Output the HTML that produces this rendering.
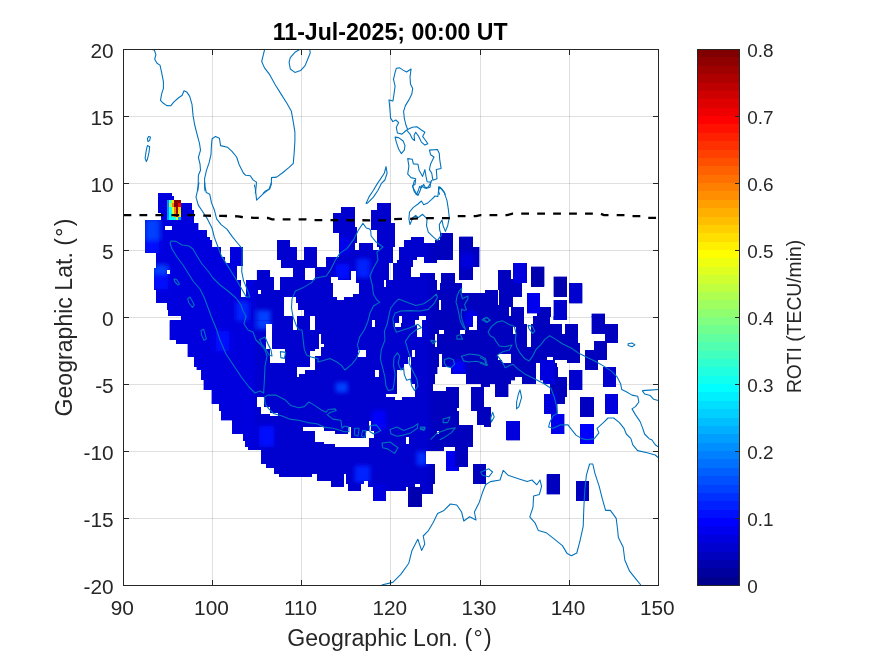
<!DOCTYPE html>
<html><head><meta charset="utf-8"><title>ROTI map</title>
<style>html,body{margin:0;padding:0;background:#fff;overflow:hidden}svg{display:block}</style></head>
<body>
<svg width="875" height="656" viewBox="0 0 875 656" style="display:block">
<rect width="875" height="656" fill="#fff"/>
<g stroke="#262626" stroke-opacity="0.15" stroke-width="1" shape-rendering="crispEdges">
<line x1="212.5" y1="49.5" x2="212.5" y2="585.5"/>
<line x1="301.5" y1="49.5" x2="301.5" y2="585.5"/>
<line x1="390.5" y1="49.5" x2="390.5" y2="585.5"/>
<line x1="480.5" y1="49.5" x2="480.5" y2="585.5"/>
<line x1="569.5" y1="49.5" x2="569.5" y2="585.5"/>
<line x1="123.5" y1="518.5" x2="658.5" y2="518.5"/>
<line x1="123.5" y1="451.5" x2="658.5" y2="451.5"/>
<line x1="123.5" y1="384.5" x2="658.5" y2="384.5"/>
<line x1="123.5" y1="317.5" x2="658.5" y2="317.5"/>
<line x1="123.5" y1="250.5" x2="658.5" y2="250.5"/>
<line x1="123.5" y1="183.5" x2="658.5" y2="183.5"/>
<line x1="123.5" y1="116.5" x2="658.5" y2="116.5"/>
</g>
<clipPath id="cp"><rect x="123.5" y="49.5" width="535.0" height="536.0"/></clipPath>
<g clip-path="url(#cp)">
<g shape-rendering="crispEdges">
<rect x="158.4" y="193.0" width="13.6" height="3.0" fill="#0000cf"/>
<rect x="158.4" y="196.0" width="15.4" height="4.0" fill="#0000cf"/>
<rect x="158.4" y="200.0" width="22.6" height="3.0" fill="#0000cf"/>
<rect x="158.4" y="203.0" width="33.6" height="7.0" fill="#0000cf"/>
<rect x="158.4" y="210.0" width="35.6" height="3.0" fill="#0000cf"/>
<rect x="161.0" y="213.0" width="33.0" height="7.0" fill="#0000cf"/>
<rect x="145.0" y="220.0" width="49.0" height="3.0" fill="#0000cf"/>
<rect x="145.0" y="223.0" width="53.4" height="3.0" fill="#0000cf"/>
<rect x="145.0" y="226.0" width="20.0" height="4.0" fill="#0000cf"/>
<rect x="172.0" y="226.0" width="26.4" height="4.0" fill="#0000cf"/>
<rect x="145.0" y="230.0" width="62.0" height="7.0" fill="#0000cf"/>
<rect x="145.0" y="237.0" width="64.6" height="3.0" fill="#0000cf"/>
<rect x="145.0" y="240.0" width="66.6" height="7.0" fill="#0000cf"/>
<rect x="277.0" y="240.0" width="13.0" height="7.0" fill="#0000cf"/>
<rect x="145.0" y="247.0" width="76.0" height="6.0" fill="#0000cf"/>
<rect x="230.0" y="247.0" width="13.0" height="6.0" fill="#0000cf"/>
<rect x="277.0" y="247.0" width="20.0" height="6.0" fill="#0000cf"/>
<rect x="303.6" y="247.0" width="11.4" height="6.0" fill="#0000cf"/>
<rect x="156.4" y="253.0" width="64.6" height="4.0" fill="#0000cf"/>
<rect x="230.0" y="253.0" width="13.0" height="4.0" fill="#0000cf"/>
<rect x="277.0" y="253.0" width="20.0" height="4.0" fill="#0000cf"/>
<rect x="303.6" y="253.0" width="11.4" height="4.0" fill="#0000cf"/>
<rect x="156.4" y="257.0" width="68.6" height="3.0" fill="#0000cf"/>
<rect x="230.0" y="257.0" width="13.0" height="3.0" fill="#0000cf"/>
<rect x="277.0" y="257.0" width="20.0" height="3.0" fill="#0000cf"/>
<rect x="303.6" y="257.0" width="11.4" height="3.0" fill="#0000cf"/>
<rect x="156.4" y="260.0" width="68.6" height="3.0" fill="#0000cf"/>
<rect x="230.0" y="260.0" width="13.0" height="3.0" fill="#0000cf"/>
<rect x="281.0" y="260.0" width="34.0" height="3.0" fill="#0000cf"/>
<rect x="156.4" y="263.0" width="86.6" height="3.0" fill="#0000cf"/>
<rect x="281.0" y="263.0" width="34.0" height="3.0" fill="#0000cf"/>
<rect x="156.4" y="266.0" width="80.6" height="2.0" fill="#0000cf"/>
<rect x="281.0" y="266.0" width="34.0" height="2.0" fill="#0000cf"/>
<rect x="154.0" y="268.0" width="83.0" height="2.0" fill="#0000cf"/>
<rect x="293.0" y="268.0" width="12.0" height="2.0" fill="#0000cf"/>
<rect x="154.0" y="270.0" width="13.0" height="4.0" fill="#0000cf"/>
<rect x="170.0" y="270.0" width="67.0" height="4.0" fill="#0000cf"/>
<rect x="256.6" y="270.0" width="13.4" height="4.0" fill="#0000cf"/>
<rect x="293.0" y="270.0" width="12.0" height="4.0" fill="#0000cf"/>
<rect x="154.0" y="274.0" width="83.0" height="3.0" fill="#0000cf"/>
<rect x="256.6" y="274.0" width="13.4" height="3.0" fill="#0000cf"/>
<rect x="293.0" y="274.0" width="12.0" height="3.0" fill="#0000cf"/>
<rect x="154.0" y="277.0" width="83.0" height="3.0" fill="#0000cf"/>
<rect x="256.6" y="277.0" width="17.4" height="3.0" fill="#0000cf"/>
<rect x="280.0" y="277.0" width="25.0" height="3.0" fill="#0000cf"/>
<rect x="154.0" y="280.0" width="87.0" height="10.0" fill="#0000cf"/>
<rect x="246.0" y="280.0" width="28.0" height="10.0" fill="#0000cf"/>
<rect x="280.0" y="280.0" width="35.0" height="10.0" fill="#0000cf"/>
<rect x="156.4" y="290.0" width="84.6" height="4.0" fill="#0000cf"/>
<rect x="246.0" y="290.0" width="12.4" height="4.0" fill="#0000cf"/>
<rect x="261.0" y="290.0" width="54.0" height="4.0" fill="#0000cf"/>
<rect x="156.4" y="294.0" width="84.6" height="3.0" fill="#0000cf"/>
<rect x="246.0" y="294.0" width="69.0" height="3.0" fill="#0000cf"/>
<rect x="156.4" y="297.0" width="127.6" height="6.0" fill="#0000cf"/>
<rect x="296.0" y="297.0" width="19.0" height="6.0" fill="#0000cf"/>
<rect x="167.0" y="303.0" width="117.0" height="7.0" fill="#0000cf"/>
<rect x="298.0" y="303.0" width="17.0" height="7.0" fill="#0000cf"/>
<rect x="168.0" y="310.0" width="116.0" height="6.0" fill="#0000cf"/>
<rect x="304.0" y="310.0" width="11.0" height="6.0" fill="#0000cf"/>
<rect x="377.4" y="203.0" width="13.2" height="3.6" fill="#0000cf"/>
<rect x="341.4" y="206.6" width="13.2" height="3.4" fill="#0000cf"/>
<rect x="377.4" y="206.6" width="13.2" height="3.4" fill="#0000cf"/>
<rect x="341.4" y="210.0" width="13.2" height="3.0" fill="#0000cf"/>
<rect x="370.6" y="210.0" width="20.0" height="3.0" fill="#0000cf"/>
<rect x="332.6" y="213.0" width="22.0" height="10.0" fill="#0000cf"/>
<rect x="370.6" y="213.0" width="20.0" height="10.0" fill="#0000cf"/>
<rect x="332.6" y="223.0" width="22.0" height="4.0" fill="#0000cf"/>
<rect x="370.6" y="223.0" width="24.4" height="4.0" fill="#0000cf"/>
<rect x="332.6" y="227.0" width="24.4" height="3.0" fill="#0000cf"/>
<rect x="370.6" y="227.0" width="24.4" height="3.0" fill="#0000cf"/>
<rect x="332.6" y="230.0" width="24.4" height="3.0" fill="#0000cf"/>
<rect x="377.4" y="230.0" width="17.6" height="3.0" fill="#0000cf"/>
<rect x="339.4" y="233.0" width="17.6" height="3.6" fill="#0000cf"/>
<rect x="377.4" y="233.0" width="17.6" height="3.6" fill="#0000cf"/>
<rect x="440.0" y="233.0" width="13.0" height="3.6" fill="#0000cf"/>
<rect x="339.4" y="236.6" width="17.6" height="3.4" fill="#0000cf"/>
<rect x="377.4" y="236.6" width="17.6" height="3.4" fill="#0000cf"/>
<rect x="411.0" y="236.6" width="13.0" height="3.4" fill="#0000cf"/>
<rect x="440.0" y="236.6" width="13.0" height="3.4" fill="#0000cf"/>
<rect x="459.4" y="236.6" width="13.6" height="3.4" fill="#0000cf"/>
<rect x="339.4" y="240.0" width="17.6" height="3.4" fill="#0000cf"/>
<rect x="377.4" y="240.0" width="17.6" height="3.4" fill="#0000cf"/>
<rect x="404.0" y="240.0" width="20.0" height="3.4" fill="#0000cf"/>
<rect x="435.0" y="240.0" width="18.0" height="3.4" fill="#0000cf"/>
<rect x="459.4" y="240.0" width="13.6" height="3.4" fill="#0000cf"/>
<rect x="339.4" y="243.4" width="33.6" height="3.6" fill="#0000cf"/>
<rect x="377.4" y="243.4" width="17.6" height="3.6" fill="#0000cf"/>
<rect x="404.0" y="243.4" width="49.0" height="3.6" fill="#0000cf"/>
<rect x="459.4" y="243.4" width="13.6" height="3.6" fill="#0000cf"/>
<rect x="315.0" y="247.0" width="2.0" height="3.0" fill="#0000cf"/>
<rect x="339.4" y="247.0" width="33.6" height="3.0" fill="#0000cf"/>
<rect x="379.0" y="247.0" width="14.0" height="3.0" fill="#0000cf"/>
<rect x="399.0" y="247.0" width="54.0" height="3.0" fill="#0000cf"/>
<rect x="459.4" y="247.0" width="20.0" height="3.0" fill="#0000cf"/>
<rect x="315.0" y="250.0" width="2.0" height="7.0" fill="#0000cf"/>
<rect x="339.4" y="250.0" width="53.6" height="7.0" fill="#0000cf"/>
<rect x="399.0" y="250.0" width="54.0" height="7.0" fill="#0000cf"/>
<rect x="459.4" y="250.0" width="20.0" height="7.0" fill="#0000cf"/>
<rect x="315.0" y="257.0" width="2.0" height="3.0" fill="#0000cf"/>
<rect x="326.0" y="257.0" width="67.0" height="3.0" fill="#0000cf"/>
<rect x="399.0" y="257.0" width="18.0" height="3.0" fill="#0000cf"/>
<rect x="424.0" y="257.0" width="29.0" height="3.0" fill="#0000cf"/>
<rect x="459.4" y="257.0" width="20.0" height="3.0" fill="#0000cf"/>
<rect x="315.0" y="260.0" width="2.0" height="3.0" fill="#0000cf"/>
<rect x="326.0" y="260.0" width="67.0" height="3.0" fill="#0000cf"/>
<rect x="397.0" y="260.0" width="16.0" height="3.0" fill="#0000cf"/>
<rect x="424.0" y="260.0" width="13.0" height="3.0" fill="#0000cf"/>
<rect x="459.4" y="260.0" width="20.0" height="3.0" fill="#0000cf"/>
<rect x="315.0" y="263.0" width="2.0" height="4.0" fill="#0000cf"/>
<rect x="326.0" y="263.0" width="63.0" height="4.0" fill="#0000cf"/>
<rect x="393.0" y="263.0" width="20.0" height="4.0" fill="#0000cf"/>
<rect x="459.4" y="263.0" width="20.0" height="4.0" fill="#0000cf"/>
<rect x="315.0" y="267.0" width="74.0" height="4.0" fill="#0000cf"/>
<rect x="393.0" y="267.0" width="18.0" height="4.0" fill="#0000cf"/>
<rect x="459.4" y="267.0" width="13.6" height="4.0" fill="#0000cf"/>
<rect x="315.0" y="271.0" width="35.6" height="2.0" fill="#0000cf"/>
<rect x="356.0" y="271.0" width="33.0" height="2.0" fill="#0000cf"/>
<rect x="393.0" y="271.0" width="18.0" height="2.0" fill="#0000cf"/>
<rect x="459.4" y="271.0" width="13.6" height="2.0" fill="#0000cf"/>
<rect x="315.0" y="273.0" width="35.6" height="4.0" fill="#0000cf"/>
<rect x="356.0" y="273.0" width="33.0" height="4.0" fill="#0000cf"/>
<rect x="393.0" y="273.0" width="18.0" height="4.0" fill="#0000cf"/>
<rect x="420.0" y="273.0" width="15.0" height="4.0" fill="#0000cf"/>
<rect x="441.4" y="273.0" width="13.6" height="4.0" fill="#0000cf"/>
<rect x="459.4" y="273.0" width="13.6" height="4.0" fill="#0000cf"/>
<rect x="315.0" y="277.0" width="16.0" height="3.0" fill="#0000cf"/>
<rect x="338.0" y="277.0" width="12.6" height="3.0" fill="#0000cf"/>
<rect x="356.0" y="277.0" width="33.0" height="3.0" fill="#0000cf"/>
<rect x="393.0" y="277.0" width="42.0" height="3.0" fill="#0000cf"/>
<rect x="441.4" y="277.0" width="13.6" height="3.0" fill="#0000cf"/>
<rect x="459.4" y="277.0" width="13.6" height="3.0" fill="#0000cf"/>
<rect x="315.0" y="280.0" width="16.0" height="3.0" fill="#0000cf"/>
<rect x="356.0" y="280.0" width="28.0" height="3.0" fill="#0000cf"/>
<rect x="386.0" y="280.0" width="51.0" height="3.0" fill="#0000cf"/>
<rect x="441.4" y="280.0" width="13.6" height="3.0" fill="#0000cf"/>
<rect x="315.0" y="283.0" width="18.0" height="4.0" fill="#0000cf"/>
<rect x="359.0" y="283.0" width="25.0" height="4.0" fill="#0000cf"/>
<rect x="386.0" y="283.0" width="51.0" height="4.0" fill="#0000cf"/>
<rect x="440.0" y="283.0" width="22.0" height="4.0" fill="#0000cf"/>
<rect x="315.0" y="287.0" width="18.0" height="3.0" fill="#0000cf"/>
<rect x="359.0" y="287.0" width="78.0" height="3.0" fill="#0000cf"/>
<rect x="440.0" y="287.0" width="22.0" height="3.0" fill="#0000cf"/>
<rect x="315.0" y="290.0" width="18.0" height="3.2" fill="#0000cf"/>
<rect x="359.0" y="290.0" width="103.0" height="3.2" fill="#0000cf"/>
<rect x="485.0" y="290.0" width="5.0" height="3.2" fill="#0000cf"/>
<rect x="315.0" y="293.2" width="18.0" height="0.8" fill="#0000cf"/>
<rect x="359.0" y="293.2" width="131.0" height="0.8" fill="#0000cf"/>
<rect x="315.0" y="294.0" width="18.0" height="3.0" fill="#0000cf"/>
<rect x="353.0" y="294.0" width="137.0" height="3.0" fill="#0000cf"/>
<rect x="315.0" y="297.0" width="22.0" height="3.0" fill="#0000cf"/>
<rect x="344.0" y="297.0" width="146.0" height="3.0" fill="#0000cf"/>
<rect x="315.0" y="300.0" width="123.6" height="10.4" fill="#0000cf"/>
<rect x="441.4" y="300.0" width="48.6" height="10.4" fill="#0000cf"/>
<rect x="315.0" y="310.4" width="175.0" height="5.6" fill="#0000cf"/>
<rect x="513.4" y="263.4" width="13.2" height="19.6" fill="#0000df"/>
<rect x="498.0" y="270.0" width="13.0" height="20.0" fill="#0000bf"/>
<rect x="531.0" y="266.6" width="13.4" height="20.0" fill="#0000af"/>
<rect x="553.6" y="276.6" width="13.4" height="20.0" fill="#0000af"/>
<rect x="569.4" y="283.4" width="13.0" height="20.0" fill="#0000cf"/>
<rect x="527.0" y="293.4" width="13.0" height="20.0" fill="#0000ef"/>
<rect x="553.6" y="300.0" width="13.4" height="20.0" fill="#0000cf"/>
<rect x="510.0" y="279.0" width="12.0" height="18.0" fill="#0000cf"/>
<rect x="490.0" y="290.0" width="7.6" height="15.0" fill="#0000af"/>
<rect x="499.0" y="290.0" width="14.0" height="17.0" fill="#0000bf"/>
<rect x="511.0" y="307.0" width="13.0" height="10.0" fill="#0000cf"/>
<rect x="537.0" y="307.0" width="14.0" height="10.0" fill="#0000af"/>
<rect x="591.6" y="313.6" width="13.4" height="3.4" fill="#0000af"/>
<rect x="490.0" y="305.0" width="19.0" height="12.0" fill="#0000bf"/>
<rect x="181.0" y="316.0" width="134.0" height="4.4" fill="#0000cf"/>
<rect x="169.6" y="320.4" width="145.4" height="19.6" fill="#0000cf"/>
<rect x="176.0" y="340.0" width="139.0" height="4.0" fill="#0000cf"/>
<rect x="187.6" y="344.0" width="127.4" height="13.0" fill="#0000cf"/>
<rect x="194.0" y="357.0" width="121.0" height="10.0" fill="#0000cf"/>
<rect x="196.6" y="367.0" width="118.4" height="3.0" fill="#0000cf"/>
<rect x="201.0" y="370.0" width="114.0" height="10.0" fill="#0000cf"/>
<rect x="203.6" y="380.0" width="111.4" height="10.0" fill="#0000cf"/>
<rect x="211.6" y="390.0" width="103.4" height="14.0" fill="#0000cf"/>
<rect x="219.0" y="404.0" width="96.0" height="7.0" fill="#0000cf"/>
<rect x="221.0" y="411.0" width="94.0" height="9.4" fill="#0000cf"/>
<rect x="232.4" y="420.4" width="82.6" height="13.6" fill="#0000cf"/>
<rect x="243.0" y="434.0" width="72.0" height="7.0" fill="#0000cf"/>
<rect x="245.4" y="441.0" width="69.6" height="6.0" fill="#0000cf"/>
<rect x="315.0" y="316.0" width="118.0" height="131.0" fill="#0000cf"/>
<rect x="433.0" y="316.0" width="57.0" height="51.0" fill="#0000cf"/>
<rect x="433.0" y="367.0" width="4.4" height="7.0" fill="#0000cf"/>
<rect x="451.0" y="367.0" width="39.0" height="7.0" fill="#0000cf"/>
<rect x="433.0" y="374.0" width="2.0" height="10.0" fill="#0000cf"/>
<rect x="466.0" y="374.0" width="24.0" height="10.0" fill="#0000cf"/>
<rect x="481.0" y="384.0" width="9.0" height="3.0" fill="#0000cf"/>
<rect x="446.0" y="387.0" width="13.0" height="4.0" fill="#0000cf"/>
<rect x="471.0" y="387.0" width="13.0" height="4.0" fill="#0000cf"/>
<rect x="433.0" y="391.0" width="26.0" height="17.0" fill="#0000cf"/>
<rect x="471.0" y="391.0" width="13.0" height="17.0" fill="#0000cf"/>
<rect x="484.0" y="407.0" width="6.0" height="20.0" fill="#0000cf"/>
<rect x="433.0" y="408.0" width="24.0" height="3.0" fill="#0000cf"/>
<rect x="471.0" y="408.0" width="13.0" height="3.0" fill="#0000cf"/>
<rect x="433.0" y="411.0" width="26.0" height="14.0" fill="#0000cf"/>
<rect x="477.0" y="411.0" width="7.0" height="14.0" fill="#0000cf"/>
<rect x="433.0" y="425.0" width="40.0" height="22.0" fill="#0000cf"/>
<rect x="490.0" y="316.0" width="34.0" height="4.0" fill="#0000cf"/>
<rect x="533.0" y="316.0" width="17.0" height="4.0" fill="#0000cf"/>
<rect x="553.6" y="316.0" width="13.4" height="4.0" fill="#0000cf"/>
<rect x="591.6" y="316.0" width="13.4" height="4.0" fill="#0000cf"/>
<rect x="490.0" y="320.0" width="34.0" height="4.0" fill="#0000cf"/>
<rect x="533.0" y="320.0" width="17.0" height="4.0" fill="#0000cf"/>
<rect x="591.6" y="320.0" width="13.4" height="4.0" fill="#0000cf"/>
<rect x="490.0" y="324.0" width="37.0" height="3.0" fill="#0000cf"/>
<rect x="531.0" y="324.0" width="31.0" height="3.0" fill="#0000cf"/>
<rect x="565.0" y="324.0" width="13.0" height="3.0" fill="#0000cf"/>
<rect x="591.6" y="324.0" width="26.4" height="3.0" fill="#0000cf"/>
<rect x="490.0" y="327.0" width="23.0" height="7.0" fill="#0000cf"/>
<rect x="516.0" y="327.0" width="11.0" height="7.0" fill="#0000cf"/>
<rect x="531.0" y="327.0" width="31.0" height="7.0" fill="#0000cf"/>
<rect x="565.0" y="327.0" width="13.0" height="7.0" fill="#0000cf"/>
<rect x="591.6" y="327.0" width="26.4" height="7.0" fill="#0000cf"/>
<rect x="490.0" y="334.0" width="37.0" height="7.0" fill="#0000cf"/>
<rect x="531.0" y="334.0" width="47.0" height="7.0" fill="#0000cf"/>
<rect x="605.0" y="334.0" width="13.0" height="7.0" fill="#0000cf"/>
<rect x="490.0" y="341.0" width="37.0" height="2.0" fill="#0000cf"/>
<rect x="531.0" y="341.0" width="47.0" height="2.0" fill="#0000cf"/>
<rect x="594.0" y="341.0" width="24.0" height="2.0" fill="#0000cf"/>
<rect x="490.0" y="343.0" width="37.0" height="4.0" fill="#0000cf"/>
<rect x="531.0" y="343.0" width="49.0" height="4.0" fill="#0000cf"/>
<rect x="594.0" y="343.0" width="13.0" height="4.0" fill="#0000cf"/>
<rect x="490.0" y="347.0" width="90.0" height="3.4" fill="#0000cf"/>
<rect x="594.0" y="347.0" width="13.0" height="3.4" fill="#0000cf"/>
<rect x="490.0" y="350.4" width="90.0" height="3.6" fill="#0000cf"/>
<rect x="585.0" y="350.4" width="22.0" height="3.6" fill="#0000cf"/>
<rect x="490.0" y="354.0" width="8.0" height="3.0" fill="#0000cf"/>
<rect x="511.0" y="354.0" width="69.0" height="3.0" fill="#0000cf"/>
<rect x="585.0" y="354.0" width="22.0" height="3.0" fill="#0000cf"/>
<rect x="490.0" y="357.0" width="8.0" height="3.0" fill="#0000cf"/>
<rect x="511.0" y="357.0" width="36.0" height="3.0" fill="#0000cf"/>
<rect x="553.0" y="357.0" width="27.0" height="3.0" fill="#0000cf"/>
<rect x="585.0" y="357.0" width="22.0" height="3.0" fill="#0000cf"/>
<rect x="490.0" y="360.0" width="12.0" height="3.0" fill="#0000cf"/>
<rect x="511.0" y="360.0" width="44.0" height="3.0" fill="#0000cf"/>
<rect x="567.0" y="360.0" width="13.0" height="3.0" fill="#0000cf"/>
<rect x="585.0" y="360.0" width="13.0" height="3.0" fill="#0000cf"/>
<rect x="490.0" y="363.0" width="46.0" height="4.0" fill="#0000cf"/>
<rect x="540.0" y="363.0" width="17.0" height="4.0" fill="#0000cf"/>
<rect x="585.0" y="363.0" width="13.0" height="4.0" fill="#0000cf"/>
<rect x="490.0" y="367.0" width="46.0" height="3.0" fill="#0000cf"/>
<rect x="540.0" y="367.0" width="18.0" height="3.0" fill="#0000cf"/>
<rect x="585.0" y="367.0" width="13.0" height="3.0" fill="#0000cf"/>
<rect x="603.0" y="367.0" width="13.0" height="3.0" fill="#0000cf"/>
<rect x="490.0" y="370.0" width="46.0" height="7.0" fill="#0000cf"/>
<rect x="540.0" y="370.0" width="18.0" height="7.0" fill="#0000cf"/>
<rect x="569.4" y="370.0" width="13.0" height="7.0" fill="#0000cf"/>
<rect x="603.0" y="370.0" width="13.0" height="7.0" fill="#0000cf"/>
<rect x="490.0" y="377.0" width="25.0" height="3.4" fill="#0000cf"/>
<rect x="522.0" y="377.0" width="14.0" height="3.4" fill="#0000cf"/>
<rect x="540.0" y="377.0" width="27.0" height="3.4" fill="#0000cf"/>
<rect x="569.4" y="377.0" width="13.0" height="3.4" fill="#0000cf"/>
<rect x="603.0" y="377.0" width="13.0" height="3.4" fill="#0000cf"/>
<rect x="490.0" y="380.4" width="21.0" height="3.6" fill="#0000cf"/>
<rect x="522.0" y="380.4" width="14.0" height="3.6" fill="#0000cf"/>
<rect x="543.0" y="380.4" width="24.0" height="3.6" fill="#0000cf"/>
<rect x="569.4" y="380.4" width="13.0" height="3.6" fill="#0000cf"/>
<rect x="603.0" y="380.4" width="13.0" height="3.6" fill="#0000cf"/>
<rect x="495.0" y="384.0" width="13.4" height="3.0" fill="#0000cf"/>
<rect x="550.0" y="384.0" width="17.0" height="3.0" fill="#0000cf"/>
<rect x="569.4" y="384.0" width="13.0" height="3.0" fill="#0000cf"/>
<rect x="603.0" y="384.0" width="13.0" height="3.0" fill="#0000cf"/>
<rect x="495.0" y="387.0" width="13.4" height="3.0" fill="#0000cf"/>
<rect x="550.0" y="387.0" width="17.0" height="3.0" fill="#0000cf"/>
<rect x="569.4" y="387.0" width="13.0" height="3.0" fill="#0000cf"/>
<rect x="495.0" y="390.0" width="13.4" height="4.0" fill="#0000cf"/>
<rect x="550.0" y="390.0" width="17.0" height="4.0" fill="#0000cf"/>
<rect x="495.0" y="394.0" width="13.4" height="3.0" fill="#0000cf"/>
<rect x="544.4" y="394.0" width="22.6" height="3.0" fill="#0000cf"/>
<rect x="605.0" y="394.0" width="13.0" height="3.0" fill="#0000cf"/>
<rect x="544.4" y="397.0" width="20.6" height="7.0" fill="#0000cf"/>
<rect x="580.4" y="397.0" width="13.2" height="7.0" fill="#0000cf"/>
<rect x="605.0" y="397.0" width="13.0" height="7.0" fill="#0000cf"/>
<rect x="544.4" y="404.0" width="13.0" height="10.0" fill="#0000cf"/>
<rect x="580.4" y="404.0" width="13.2" height="10.0" fill="#0000cf"/>
<rect x="605.0" y="404.0" width="13.0" height="10.0" fill="#0000cf"/>
<rect x="490.0" y="407.0" width="1.0" height="20.0" fill="#0000cf"/>
<rect x="551.0" y="414.0" width="13.4" height="3.0" fill="#0000cf"/>
<rect x="580.4" y="414.0" width="13.2" height="3.0" fill="#0000cf"/>
<rect x="551.0" y="417.0" width="13.4" height="4.0" fill="#0000cf"/>
<rect x="506.4" y="421.0" width="13.6" height="3.0" fill="#0000cf"/>
<rect x="551.0" y="421.0" width="13.4" height="3.0" fill="#0000cf"/>
<rect x="506.4" y="424.0" width="13.6" height="10.0" fill="#0000cf"/>
<rect x="551.0" y="424.0" width="13.4" height="10.0" fill="#0000cf"/>
<rect x="580.4" y="424.0" width="13.2" height="10.0" fill="#0000cf"/>
<rect x="506.4" y="434.0" width="13.6" height="6.4" fill="#0000cf"/>
<rect x="580.4" y="434.0" width="13.2" height="6.4" fill="#0000cf"/>
<rect x="580.4" y="440.4" width="13.2" height="3.6" fill="#0000cf"/>
<rect x="248.0" y="447.0" width="67.0" height="3.0" fill="#0000cf"/>
<rect x="261.0" y="450.0" width="54.0" height="14.0" fill="#0000cf"/>
<rect x="265.6" y="464.0" width="49.4" height="4.0" fill="#0000cf"/>
<rect x="274.0" y="468.0" width="41.0" height="6.0" fill="#0000cf"/>
<rect x="279.0" y="474.0" width="33.0" height="3.4" fill="#0000cf"/>
<rect x="315.0" y="447.0" width="129.0" height="4.0" fill="#0000cf"/>
<rect x="455.0" y="447.0" width="13.0" height="4.0" fill="#0000cf"/>
<rect x="315.0" y="451.0" width="111.0" height="13.0" fill="#0000cf"/>
<rect x="446.0" y="451.0" width="22.0" height="13.0" fill="#0000cf"/>
<rect x="315.0" y="464.0" width="120.0" height="3.0" fill="#0000cf"/>
<rect x="446.0" y="464.0" width="22.0" height="3.0" fill="#0000cf"/>
<rect x="473.0" y="464.0" width="13.0" height="3.0" fill="#0000cf"/>
<rect x="315.0" y="467.0" width="120.0" height="4.0" fill="#0000cf"/>
<rect x="446.0" y="467.0" width="13.0" height="4.0" fill="#0000cf"/>
<rect x="473.0" y="467.0" width="13.0" height="4.0" fill="#0000cf"/>
<rect x="315.0" y="471.0" width="120.0" height="3.0" fill="#0000cf"/>
<rect x="473.0" y="471.0" width="13.0" height="3.0" fill="#0000cf"/>
<rect x="317.0" y="474.0" width="27.0" height="7.0" fill="#0000cf"/>
<rect x="346.0" y="474.0" width="89.0" height="7.0" fill="#0000cf"/>
<rect x="473.0" y="474.0" width="13.0" height="7.0" fill="#0000cf"/>
<rect x="330.6" y="481.0" width="13.4" height="3.0" fill="#0000cf"/>
<rect x="346.0" y="481.0" width="18.0" height="3.0" fill="#0000cf"/>
<rect x="368.0" y="481.0" width="67.0" height="3.0" fill="#0000cf"/>
<rect x="473.0" y="481.0" width="13.0" height="3.0" fill="#0000cf"/>
<rect x="330.6" y="484.0" width="13.4" height="3.0" fill="#0000cf"/>
<rect x="348.0" y="484.0" width="13.0" height="3.0" fill="#0000cf"/>
<rect x="368.0" y="484.0" width="47.0" height="3.0" fill="#0000cf"/>
<rect x="420.0" y="484.0" width="13.0" height="3.0" fill="#0000cf"/>
<rect x="348.0" y="487.0" width="13.0" height="3.6" fill="#0000cf"/>
<rect x="373.0" y="487.0" width="33.0" height="3.6" fill="#0000cf"/>
<rect x="408.4" y="487.0" width="24.6" height="3.6" fill="#0000cf"/>
<rect x="373.0" y="490.6" width="13.0" height="3.4" fill="#0000cf"/>
<rect x="408.4" y="490.6" width="24.6" height="3.4" fill="#0000cf"/>
<rect x="373.0" y="494.0" width="13.0" height="7.0" fill="#0000cf"/>
<rect x="408.4" y="494.0" width="13.6" height="7.0" fill="#0000cf"/>
<rect x="408.4" y="501.0" width="13.6" height="6.4" fill="#0000cf"/>
<rect x="546.6" y="474.4" width="13.4" height="20.0" fill="#0000af"/>
<rect x="576.0" y="481.0" width="13.0" height="20.0" fill="#0000cf"/>
</g>
<clipPath id="blob">
<rect x="158.4" y="193.0" width="13.6" height="3.0"/>
<rect x="158.4" y="196.0" width="15.4" height="4.0"/>
<rect x="158.4" y="200.0" width="22.6" height="3.0"/>
<rect x="158.4" y="203.0" width="33.6" height="7.0"/>
<rect x="158.4" y="210.0" width="35.6" height="3.0"/>
<rect x="161.0" y="213.0" width="33.0" height="7.0"/>
<rect x="145.0" y="220.0" width="49.0" height="3.0"/>
<rect x="145.0" y="223.0" width="53.4" height="3.0"/>
<rect x="145.0" y="226.0" width="20.0" height="4.0"/>
<rect x="172.0" y="226.0" width="26.4" height="4.0"/>
<rect x="145.0" y="230.0" width="62.0" height="7.0"/>
<rect x="145.0" y="237.0" width="64.6" height="3.0"/>
<rect x="145.0" y="240.0" width="66.6" height="7.0"/>
<rect x="277.0" y="240.0" width="13.0" height="7.0"/>
<rect x="145.0" y="247.0" width="76.0" height="6.0"/>
<rect x="230.0" y="247.0" width="13.0" height="6.0"/>
<rect x="277.0" y="247.0" width="20.0" height="6.0"/>
<rect x="303.6" y="247.0" width="11.4" height="6.0"/>
<rect x="156.4" y="253.0" width="64.6" height="4.0"/>
<rect x="230.0" y="253.0" width="13.0" height="4.0"/>
<rect x="277.0" y="253.0" width="20.0" height="4.0"/>
<rect x="303.6" y="253.0" width="11.4" height="4.0"/>
<rect x="156.4" y="257.0" width="68.6" height="3.0"/>
<rect x="230.0" y="257.0" width="13.0" height="3.0"/>
<rect x="277.0" y="257.0" width="20.0" height="3.0"/>
<rect x="303.6" y="257.0" width="11.4" height="3.0"/>
<rect x="156.4" y="260.0" width="68.6" height="3.0"/>
<rect x="230.0" y="260.0" width="13.0" height="3.0"/>
<rect x="281.0" y="260.0" width="34.0" height="3.0"/>
<rect x="156.4" y="263.0" width="86.6" height="3.0"/>
<rect x="281.0" y="263.0" width="34.0" height="3.0"/>
<rect x="156.4" y="266.0" width="80.6" height="2.0"/>
<rect x="281.0" y="266.0" width="34.0" height="2.0"/>
<rect x="154.0" y="268.0" width="83.0" height="2.0"/>
<rect x="293.0" y="268.0" width="12.0" height="2.0"/>
<rect x="154.0" y="270.0" width="13.0" height="4.0"/>
<rect x="170.0" y="270.0" width="67.0" height="4.0"/>
<rect x="256.6" y="270.0" width="13.4" height="4.0"/>
<rect x="293.0" y="270.0" width="12.0" height="4.0"/>
<rect x="154.0" y="274.0" width="83.0" height="3.0"/>
<rect x="256.6" y="274.0" width="13.4" height="3.0"/>
<rect x="293.0" y="274.0" width="12.0" height="3.0"/>
<rect x="154.0" y="277.0" width="83.0" height="3.0"/>
<rect x="256.6" y="277.0" width="17.4" height="3.0"/>
<rect x="280.0" y="277.0" width="25.0" height="3.0"/>
<rect x="154.0" y="280.0" width="87.0" height="10.0"/>
<rect x="246.0" y="280.0" width="28.0" height="10.0"/>
<rect x="280.0" y="280.0" width="35.0" height="10.0"/>
<rect x="156.4" y="290.0" width="84.6" height="4.0"/>
<rect x="246.0" y="290.0" width="12.4" height="4.0"/>
<rect x="261.0" y="290.0" width="54.0" height="4.0"/>
<rect x="156.4" y="294.0" width="84.6" height="3.0"/>
<rect x="246.0" y="294.0" width="69.0" height="3.0"/>
<rect x="156.4" y="297.0" width="127.6" height="6.0"/>
<rect x="296.0" y="297.0" width="19.0" height="6.0"/>
<rect x="167.0" y="303.0" width="117.0" height="7.0"/>
<rect x="298.0" y="303.0" width="17.0" height="7.0"/>
<rect x="168.0" y="310.0" width="116.0" height="6.0"/>
<rect x="304.0" y="310.0" width="11.0" height="6.0"/>
<rect x="377.4" y="203.0" width="13.2" height="3.6"/>
<rect x="341.4" y="206.6" width="13.2" height="3.4"/>
<rect x="377.4" y="206.6" width="13.2" height="3.4"/>
<rect x="341.4" y="210.0" width="13.2" height="3.0"/>
<rect x="370.6" y="210.0" width="20.0" height="3.0"/>
<rect x="332.6" y="213.0" width="22.0" height="10.0"/>
<rect x="370.6" y="213.0" width="20.0" height="10.0"/>
<rect x="332.6" y="223.0" width="22.0" height="4.0"/>
<rect x="370.6" y="223.0" width="24.4" height="4.0"/>
<rect x="332.6" y="227.0" width="24.4" height="3.0"/>
<rect x="370.6" y="227.0" width="24.4" height="3.0"/>
<rect x="332.6" y="230.0" width="24.4" height="3.0"/>
<rect x="377.4" y="230.0" width="17.6" height="3.0"/>
<rect x="339.4" y="233.0" width="17.6" height="3.6"/>
<rect x="377.4" y="233.0" width="17.6" height="3.6"/>
<rect x="440.0" y="233.0" width="13.0" height="3.6"/>
<rect x="339.4" y="236.6" width="17.6" height="3.4"/>
<rect x="377.4" y="236.6" width="17.6" height="3.4"/>
<rect x="411.0" y="236.6" width="13.0" height="3.4"/>
<rect x="440.0" y="236.6" width="13.0" height="3.4"/>
<rect x="459.4" y="236.6" width="13.6" height="3.4"/>
<rect x="339.4" y="240.0" width="17.6" height="3.4"/>
<rect x="377.4" y="240.0" width="17.6" height="3.4"/>
<rect x="404.0" y="240.0" width="20.0" height="3.4"/>
<rect x="435.0" y="240.0" width="18.0" height="3.4"/>
<rect x="459.4" y="240.0" width="13.6" height="3.4"/>
<rect x="339.4" y="243.4" width="33.6" height="3.6"/>
<rect x="377.4" y="243.4" width="17.6" height="3.6"/>
<rect x="404.0" y="243.4" width="49.0" height="3.6"/>
<rect x="459.4" y="243.4" width="13.6" height="3.6"/>
<rect x="315.0" y="247.0" width="2.0" height="3.0"/>
<rect x="339.4" y="247.0" width="33.6" height="3.0"/>
<rect x="379.0" y="247.0" width="14.0" height="3.0"/>
<rect x="399.0" y="247.0" width="54.0" height="3.0"/>
<rect x="459.4" y="247.0" width="20.0" height="3.0"/>
<rect x="315.0" y="250.0" width="2.0" height="7.0"/>
<rect x="339.4" y="250.0" width="53.6" height="7.0"/>
<rect x="399.0" y="250.0" width="54.0" height="7.0"/>
<rect x="459.4" y="250.0" width="20.0" height="7.0"/>
<rect x="315.0" y="257.0" width="2.0" height="3.0"/>
<rect x="326.0" y="257.0" width="67.0" height="3.0"/>
<rect x="399.0" y="257.0" width="18.0" height="3.0"/>
<rect x="424.0" y="257.0" width="29.0" height="3.0"/>
<rect x="459.4" y="257.0" width="20.0" height="3.0"/>
<rect x="315.0" y="260.0" width="2.0" height="3.0"/>
<rect x="326.0" y="260.0" width="67.0" height="3.0"/>
<rect x="397.0" y="260.0" width="16.0" height="3.0"/>
<rect x="424.0" y="260.0" width="13.0" height="3.0"/>
<rect x="459.4" y="260.0" width="20.0" height="3.0"/>
<rect x="315.0" y="263.0" width="2.0" height="4.0"/>
<rect x="326.0" y="263.0" width="63.0" height="4.0"/>
<rect x="393.0" y="263.0" width="20.0" height="4.0"/>
<rect x="459.4" y="263.0" width="20.0" height="4.0"/>
<rect x="315.0" y="267.0" width="74.0" height="4.0"/>
<rect x="393.0" y="267.0" width="18.0" height="4.0"/>
<rect x="459.4" y="267.0" width="13.6" height="4.0"/>
<rect x="315.0" y="271.0" width="35.6" height="2.0"/>
<rect x="356.0" y="271.0" width="33.0" height="2.0"/>
<rect x="393.0" y="271.0" width="18.0" height="2.0"/>
<rect x="459.4" y="271.0" width="13.6" height="2.0"/>
<rect x="315.0" y="273.0" width="35.6" height="4.0"/>
<rect x="356.0" y="273.0" width="33.0" height="4.0"/>
<rect x="393.0" y="273.0" width="18.0" height="4.0"/>
<rect x="420.0" y="273.0" width="15.0" height="4.0"/>
<rect x="441.4" y="273.0" width="13.6" height="4.0"/>
<rect x="459.4" y="273.0" width="13.6" height="4.0"/>
<rect x="315.0" y="277.0" width="16.0" height="3.0"/>
<rect x="338.0" y="277.0" width="12.6" height="3.0"/>
<rect x="356.0" y="277.0" width="33.0" height="3.0"/>
<rect x="393.0" y="277.0" width="42.0" height="3.0"/>
<rect x="441.4" y="277.0" width="13.6" height="3.0"/>
<rect x="459.4" y="277.0" width="13.6" height="3.0"/>
<rect x="315.0" y="280.0" width="16.0" height="3.0"/>
<rect x="356.0" y="280.0" width="28.0" height="3.0"/>
<rect x="386.0" y="280.0" width="51.0" height="3.0"/>
<rect x="441.4" y="280.0" width="13.6" height="3.0"/>
<rect x="315.0" y="283.0" width="18.0" height="4.0"/>
<rect x="359.0" y="283.0" width="25.0" height="4.0"/>
<rect x="386.0" y="283.0" width="51.0" height="4.0"/>
<rect x="440.0" y="283.0" width="22.0" height="4.0"/>
<rect x="315.0" y="287.0" width="18.0" height="3.0"/>
<rect x="359.0" y="287.0" width="78.0" height="3.0"/>
<rect x="440.0" y="287.0" width="22.0" height="3.0"/>
<rect x="315.0" y="290.0" width="18.0" height="3.2"/>
<rect x="359.0" y="290.0" width="103.0" height="3.2"/>
<rect x="485.0" y="290.0" width="5.0" height="3.2"/>
<rect x="315.0" y="293.2" width="18.0" height="0.8"/>
<rect x="359.0" y="293.2" width="131.0" height="0.8"/>
<rect x="315.0" y="294.0" width="18.0" height="3.0"/>
<rect x="353.0" y="294.0" width="137.0" height="3.0"/>
<rect x="315.0" y="297.0" width="22.0" height="3.0"/>
<rect x="344.0" y="297.0" width="146.0" height="3.0"/>
<rect x="315.0" y="300.0" width="123.6" height="10.4"/>
<rect x="441.4" y="300.0" width="48.6" height="10.4"/>
<rect x="315.0" y="310.4" width="175.0" height="5.6"/>
<rect x="513.4" y="263.4" width="13.2" height="19.6"/>
<rect x="498.0" y="270.0" width="13.0" height="20.0"/>
<rect x="531.0" y="266.6" width="13.4" height="20.0"/>
<rect x="553.6" y="276.6" width="13.4" height="20.0"/>
<rect x="569.4" y="283.4" width="13.0" height="20.0"/>
<rect x="527.0" y="293.4" width="13.0" height="20.0"/>
<rect x="553.6" y="300.0" width="13.4" height="20.0"/>
<rect x="510.0" y="279.0" width="12.0" height="18.0"/>
<rect x="490.0" y="290.0" width="7.6" height="15.0"/>
<rect x="499.0" y="290.0" width="14.0" height="17.0"/>
<rect x="511.0" y="307.0" width="13.0" height="10.0"/>
<rect x="537.0" y="307.0" width="14.0" height="10.0"/>
<rect x="591.6" y="313.6" width="13.4" height="3.4"/>
<rect x="490.0" y="305.0" width="19.0" height="12.0"/>
<rect x="181.0" y="316.0" width="134.0" height="4.4"/>
<rect x="169.6" y="320.4" width="145.4" height="19.6"/>
<rect x="176.0" y="340.0" width="139.0" height="4.0"/>
<rect x="187.6" y="344.0" width="127.4" height="13.0"/>
<rect x="194.0" y="357.0" width="121.0" height="10.0"/>
<rect x="196.6" y="367.0" width="118.4" height="3.0"/>
<rect x="201.0" y="370.0" width="114.0" height="10.0"/>
<rect x="203.6" y="380.0" width="111.4" height="10.0"/>
<rect x="211.6" y="390.0" width="103.4" height="14.0"/>
<rect x="219.0" y="404.0" width="96.0" height="7.0"/>
<rect x="221.0" y="411.0" width="94.0" height="9.4"/>
<rect x="232.4" y="420.4" width="82.6" height="13.6"/>
<rect x="243.0" y="434.0" width="72.0" height="7.0"/>
<rect x="245.4" y="441.0" width="69.6" height="6.0"/>
<rect x="315.0" y="316.0" width="118.0" height="131.0"/>
<rect x="433.0" y="316.0" width="57.0" height="51.0"/>
<rect x="433.0" y="367.0" width="4.4" height="7.0"/>
<rect x="451.0" y="367.0" width="39.0" height="7.0"/>
<rect x="433.0" y="374.0" width="2.0" height="10.0"/>
<rect x="466.0" y="374.0" width="24.0" height="10.0"/>
<rect x="481.0" y="384.0" width="9.0" height="3.0"/>
<rect x="446.0" y="387.0" width="13.0" height="4.0"/>
<rect x="471.0" y="387.0" width="13.0" height="4.0"/>
<rect x="433.0" y="391.0" width="26.0" height="17.0"/>
<rect x="471.0" y="391.0" width="13.0" height="17.0"/>
<rect x="484.0" y="407.0" width="6.0" height="20.0"/>
<rect x="433.0" y="408.0" width="24.0" height="3.0"/>
<rect x="471.0" y="408.0" width="13.0" height="3.0"/>
<rect x="433.0" y="411.0" width="26.0" height="14.0"/>
<rect x="477.0" y="411.0" width="7.0" height="14.0"/>
<rect x="433.0" y="425.0" width="40.0" height="22.0"/>
<rect x="490.0" y="316.0" width="34.0" height="4.0"/>
<rect x="533.0" y="316.0" width="17.0" height="4.0"/>
<rect x="553.6" y="316.0" width="13.4" height="4.0"/>
<rect x="591.6" y="316.0" width="13.4" height="4.0"/>
<rect x="490.0" y="320.0" width="34.0" height="4.0"/>
<rect x="533.0" y="320.0" width="17.0" height="4.0"/>
<rect x="591.6" y="320.0" width="13.4" height="4.0"/>
<rect x="490.0" y="324.0" width="37.0" height="3.0"/>
<rect x="531.0" y="324.0" width="31.0" height="3.0"/>
<rect x="565.0" y="324.0" width="13.0" height="3.0"/>
<rect x="591.6" y="324.0" width="26.4" height="3.0"/>
<rect x="490.0" y="327.0" width="23.0" height="7.0"/>
<rect x="516.0" y="327.0" width="11.0" height="7.0"/>
<rect x="531.0" y="327.0" width="31.0" height="7.0"/>
<rect x="565.0" y="327.0" width="13.0" height="7.0"/>
<rect x="591.6" y="327.0" width="26.4" height="7.0"/>
<rect x="490.0" y="334.0" width="37.0" height="7.0"/>
<rect x="531.0" y="334.0" width="47.0" height="7.0"/>
<rect x="605.0" y="334.0" width="13.0" height="7.0"/>
<rect x="490.0" y="341.0" width="37.0" height="2.0"/>
<rect x="531.0" y="341.0" width="47.0" height="2.0"/>
<rect x="594.0" y="341.0" width="24.0" height="2.0"/>
<rect x="490.0" y="343.0" width="37.0" height="4.0"/>
<rect x="531.0" y="343.0" width="49.0" height="4.0"/>
<rect x="594.0" y="343.0" width="13.0" height="4.0"/>
<rect x="490.0" y="347.0" width="90.0" height="3.4"/>
<rect x="594.0" y="347.0" width="13.0" height="3.4"/>
<rect x="490.0" y="350.4" width="90.0" height="3.6"/>
<rect x="585.0" y="350.4" width="22.0" height="3.6"/>
<rect x="490.0" y="354.0" width="8.0" height="3.0"/>
<rect x="511.0" y="354.0" width="69.0" height="3.0"/>
<rect x="585.0" y="354.0" width="22.0" height="3.0"/>
<rect x="490.0" y="357.0" width="8.0" height="3.0"/>
<rect x="511.0" y="357.0" width="36.0" height="3.0"/>
<rect x="553.0" y="357.0" width="27.0" height="3.0"/>
<rect x="585.0" y="357.0" width="22.0" height="3.0"/>
<rect x="490.0" y="360.0" width="12.0" height="3.0"/>
<rect x="511.0" y="360.0" width="44.0" height="3.0"/>
<rect x="567.0" y="360.0" width="13.0" height="3.0"/>
<rect x="585.0" y="360.0" width="13.0" height="3.0"/>
<rect x="490.0" y="363.0" width="46.0" height="4.0"/>
<rect x="540.0" y="363.0" width="17.0" height="4.0"/>
<rect x="585.0" y="363.0" width="13.0" height="4.0"/>
<rect x="490.0" y="367.0" width="46.0" height="3.0"/>
<rect x="540.0" y="367.0" width="18.0" height="3.0"/>
<rect x="585.0" y="367.0" width="13.0" height="3.0"/>
<rect x="603.0" y="367.0" width="13.0" height="3.0"/>
<rect x="490.0" y="370.0" width="46.0" height="7.0"/>
<rect x="540.0" y="370.0" width="18.0" height="7.0"/>
<rect x="569.4" y="370.0" width="13.0" height="7.0"/>
<rect x="603.0" y="370.0" width="13.0" height="7.0"/>
<rect x="490.0" y="377.0" width="25.0" height="3.4"/>
<rect x="522.0" y="377.0" width="14.0" height="3.4"/>
<rect x="540.0" y="377.0" width="27.0" height="3.4"/>
<rect x="569.4" y="377.0" width="13.0" height="3.4"/>
<rect x="603.0" y="377.0" width="13.0" height="3.4"/>
<rect x="490.0" y="380.4" width="21.0" height="3.6"/>
<rect x="522.0" y="380.4" width="14.0" height="3.6"/>
<rect x="543.0" y="380.4" width="24.0" height="3.6"/>
<rect x="569.4" y="380.4" width="13.0" height="3.6"/>
<rect x="603.0" y="380.4" width="13.0" height="3.6"/>
<rect x="495.0" y="384.0" width="13.4" height="3.0"/>
<rect x="550.0" y="384.0" width="17.0" height="3.0"/>
<rect x="569.4" y="384.0" width="13.0" height="3.0"/>
<rect x="603.0" y="384.0" width="13.0" height="3.0"/>
<rect x="495.0" y="387.0" width="13.4" height="3.0"/>
<rect x="550.0" y="387.0" width="17.0" height="3.0"/>
<rect x="569.4" y="387.0" width="13.0" height="3.0"/>
<rect x="495.0" y="390.0" width="13.4" height="4.0"/>
<rect x="550.0" y="390.0" width="17.0" height="4.0"/>
<rect x="495.0" y="394.0" width="13.4" height="3.0"/>
<rect x="544.4" y="394.0" width="22.6" height="3.0"/>
<rect x="605.0" y="394.0" width="13.0" height="3.0"/>
<rect x="544.4" y="397.0" width="20.6" height="7.0"/>
<rect x="580.4" y="397.0" width="13.2" height="7.0"/>
<rect x="605.0" y="397.0" width="13.0" height="7.0"/>
<rect x="544.4" y="404.0" width="13.0" height="10.0"/>
<rect x="580.4" y="404.0" width="13.2" height="10.0"/>
<rect x="605.0" y="404.0" width="13.0" height="10.0"/>
<rect x="490.0" y="407.0" width="1.0" height="20.0"/>
<rect x="551.0" y="414.0" width="13.4" height="3.0"/>
<rect x="580.4" y="414.0" width="13.2" height="3.0"/>
<rect x="551.0" y="417.0" width="13.4" height="4.0"/>
<rect x="506.4" y="421.0" width="13.6" height="3.0"/>
<rect x="551.0" y="421.0" width="13.4" height="3.0"/>
<rect x="506.4" y="424.0" width="13.6" height="10.0"/>
<rect x="551.0" y="424.0" width="13.4" height="10.0"/>
<rect x="580.4" y="424.0" width="13.2" height="10.0"/>
<rect x="506.4" y="434.0" width="13.6" height="6.4"/>
<rect x="580.4" y="434.0" width="13.2" height="6.4"/>
<rect x="580.4" y="440.4" width="13.2" height="3.6"/>
<rect x="248.0" y="447.0" width="67.0" height="3.0"/>
<rect x="261.0" y="450.0" width="54.0" height="14.0"/>
<rect x="265.6" y="464.0" width="49.4" height="4.0"/>
<rect x="274.0" y="468.0" width="41.0" height="6.0"/>
<rect x="279.0" y="474.0" width="33.0" height="3.4"/>
<rect x="315.0" y="447.0" width="129.0" height="4.0"/>
<rect x="455.0" y="447.0" width="13.0" height="4.0"/>
<rect x="315.0" y="451.0" width="111.0" height="13.0"/>
<rect x="446.0" y="451.0" width="22.0" height="13.0"/>
<rect x="315.0" y="464.0" width="120.0" height="3.0"/>
<rect x="446.0" y="464.0" width="22.0" height="3.0"/>
<rect x="473.0" y="464.0" width="13.0" height="3.0"/>
<rect x="315.0" y="467.0" width="120.0" height="4.0"/>
<rect x="446.0" y="467.0" width="13.0" height="4.0"/>
<rect x="473.0" y="467.0" width="13.0" height="4.0"/>
<rect x="315.0" y="471.0" width="120.0" height="3.0"/>
<rect x="473.0" y="471.0" width="13.0" height="3.0"/>
<rect x="317.0" y="474.0" width="27.0" height="7.0"/>
<rect x="346.0" y="474.0" width="89.0" height="7.0"/>
<rect x="473.0" y="474.0" width="13.0" height="7.0"/>
<rect x="330.6" y="481.0" width="13.4" height="3.0"/>
<rect x="346.0" y="481.0" width="18.0" height="3.0"/>
<rect x="368.0" y="481.0" width="67.0" height="3.0"/>
<rect x="473.0" y="481.0" width="13.0" height="3.0"/>
<rect x="330.6" y="484.0" width="13.4" height="3.0"/>
<rect x="348.0" y="484.0" width="13.0" height="3.0"/>
<rect x="368.0" y="484.0" width="47.0" height="3.0"/>
<rect x="420.0" y="484.0" width="13.0" height="3.0"/>
<rect x="348.0" y="487.0" width="13.0" height="3.6"/>
<rect x="373.0" y="487.0" width="33.0" height="3.6"/>
<rect x="408.4" y="487.0" width="24.6" height="3.6"/>
<rect x="373.0" y="490.6" width="13.0" height="3.4"/>
<rect x="408.4" y="490.6" width="24.6" height="3.4"/>
<rect x="373.0" y="494.0" width="13.0" height="7.0"/>
<rect x="408.4" y="494.0" width="13.6" height="7.0"/>
<rect x="408.4" y="501.0" width="13.6" height="6.4"/>
<rect x="546.6" y="474.4" width="13.4" height="20.0"/>
<rect x="576.0" y="481.0" width="13.0" height="20.0"/>
</clipPath>
<filter id="bl" x="-20%" y="-20%" width="140%" height="140%"><feGaussianBlur stdDeviation="2.2"/></filter>
<g clip-path="url(#blob)"><g filter="url(#bl)">
<rect x="123.0" y="180.0" width="132.0" height="340.0" fill="#0000df"/>
<rect x="430.0" y="180.0" width="230.0" height="340.0" fill="#0000bf"/>
<rect x="145.4" y="219.4" width="13.7" height="20.6" fill="#0040ff"/>
<rect x="145.4" y="240.0" width="13.7" height="13.0" fill="#0010ff"/>
<rect x="154.0" y="265.7" width="13.7" height="8.3" fill="#0040ff"/>
<rect x="154.0" y="274.0" width="13.7" height="15.0" fill="#0010ff"/>
<rect x="236.3" y="301.7" width="12.0" height="18.9" fill="#0020ff"/>
<rect x="256.8" y="310.3" width="13.8" height="18.8" fill="#0040ff"/>
<rect x="356.3" y="258.8" width="13.7" height="18.9" fill="#0020ff"/>
<rect x="335.7" y="264.0" width="13.7" height="15.4" fill="#0010ff"/>
<rect x="335.7" y="382.3" width="12.0" height="10.2" fill="#0040ff"/>
<rect x="215.7" y="330.8" width="13.7" height="20.6" fill="#0010ff"/>
<rect x="337.4" y="236.6" width="12.0" height="17.1" fill="#0000ef"/>
<rect x="258.9" y="426.0" width="15.4" height="20.6" fill="#0010ff"/>
<rect x="354.8" y="465.4" width="15.5" height="17.2" fill="#0020ff"/>
<rect x="416.5" y="451.7" width="10.3" height="13.7" fill="#0030ff"/>
<rect x="372.0" y="410.6" width="13.7" height="18.8" fill="#0000ff"/>
<rect x="461.0" y="253.0" width="13.0" height="15.0" fill="#0000df"/>
<rect x="452.0" y="361.0" width="13.0" height="12.0" fill="#0000ff"/>
<rect x="465.0" y="311.0" width="11.0" height="15.0" fill="#0000ef"/>
</g>
<g shape-rendering="crispEdges">
<rect x="580.4" y="424.0" width="13.2" height="20.0" fill="#0000ff"/>
<rect x="551.0" y="414.0" width="13.4" height="20.0" fill="#0000ef"/>
<rect x="605.0" y="394.0" width="13.0" height="20.0" fill="#0000df"/>
<rect x="603.0" y="367.0" width="13.0" height="20.0" fill="#0000cf"/>
<rect x="569.4" y="370.4" width="13.0" height="19.6" fill="#0000cf"/>
<rect x="506.4" y="421.0" width="13.6" height="19.4" fill="#0000df"/>
<rect x="544.4" y="394.0" width="13.0" height="20.0" fill="#0000df"/>
<rect x="540.0" y="360.0" width="15.0" height="24.0" fill="#0000df"/>
<rect x="513.4" y="263.4" width="13.2" height="19.6" fill="#0000df"/>
<rect x="531.0" y="266.6" width="13.4" height="20.0" fill="#0000af"/>
<rect x="553.6" y="276.6" width="13.4" height="20.0" fill="#0000af"/>
<rect x="569.4" y="283.4" width="13.0" height="20.0" fill="#0000cf"/>
<rect x="527.0" y="293.4" width="13.0" height="20.0" fill="#0000ef"/>
<rect x="553.6" y="300.0" width="13.4" height="20.0" fill="#0000cf"/>
<rect x="373.0" y="484.0" width="13.0" height="17.0" fill="#0000df"/>
<rect x="408.4" y="487.0" width="13.6" height="20.4" fill="#0000af"/>
<rect x="446.0" y="451.0" width="13.0" height="20.0" fill="#0000ef"/>
<rect x="455.0" y="447.0" width="13.0" height="20.0" fill="#0000bf"/>
</g></g>
<g shape-rendering="crispEdges">
<rect x="167.00" y="200.00" width="2.3" height="3.4" fill="#008fff"/>
<rect x="169.25" y="200.00" width="2.3" height="3.4" fill="#50ffaf"/>
<rect x="171.50" y="200.00" width="2.3" height="3.4" fill="#ffdf00"/>
<rect x="173.75" y="200.00" width="2.3" height="3.4" fill="#800000"/>
<rect x="176.00" y="200.00" width="2.3" height="3.4" fill="#800000"/>
<rect x="178.25" y="200.00" width="2.3" height="3.4" fill="#8f0000"/>
<rect x="167.00" y="203.30" width="2.3" height="3.4" fill="#008fff"/>
<rect x="169.25" y="203.30" width="2.3" height="3.4" fill="#9fff60"/>
<rect x="171.50" y="203.30" width="2.3" height="3.4" fill="#ff8000"/>
<rect x="173.75" y="203.30" width="2.3" height="3.4" fill="#800000"/>
<rect x="176.00" y="203.30" width="2.3" height="3.4" fill="#800000"/>
<rect x="178.25" y="203.30" width="2.3" height="3.4" fill="#ff0000"/>
<rect x="167.00" y="206.60" width="2.3" height="3.4" fill="#008fff"/>
<rect x="169.25" y="206.60" width="2.3" height="3.4" fill="#20ffdf"/>
<rect x="171.50" y="206.60" width="2.3" height="3.4" fill="#dfff20"/>
<rect x="173.75" y="206.60" width="2.3" height="3.4" fill="#ff8000"/>
<rect x="176.00" y="206.60" width="2.3" height="3.4" fill="#8f0000"/>
<rect x="178.25" y="206.60" width="2.3" height="3.4" fill="#ffcf00"/>
<rect x="167.00" y="209.90" width="2.3" height="3.4" fill="#008fff"/>
<rect x="169.25" y="209.90" width="2.3" height="3.4" fill="#10ffef"/>
<rect x="171.50" y="209.90" width="2.3" height="3.4" fill="#cfff30"/>
<rect x="173.75" y="209.90" width="2.3" height="3.4" fill="#ff8000"/>
<rect x="176.00" y="209.90" width="2.3" height="3.4" fill="#8f0000"/>
<rect x="178.25" y="209.90" width="2.3" height="3.4" fill="#ffdf00"/>
<rect x="167.00" y="213.20" width="2.3" height="3.4" fill="#008fff"/>
<rect x="169.25" y="213.20" width="2.3" height="3.4" fill="#00ffff"/>
<rect x="171.50" y="213.20" width="2.3" height="3.4" fill="#bfff40"/>
<rect x="173.75" y="213.20" width="2.3" height="3.4" fill="#ff8000"/>
<rect x="176.00" y="213.20" width="2.3" height="3.4" fill="#af0000"/>
<rect x="178.25" y="213.20" width="2.3" height="3.4" fill="#ffef00"/>
<rect x="167.00" y="216.50" width="2.3" height="3.4" fill="#009fff"/>
<rect x="169.25" y="216.50" width="2.3" height="3.4" fill="#00ffff"/>
<rect x="171.50" y="216.50" width="2.3" height="3.4" fill="#00ffff"/>
<rect x="173.75" y="216.50" width="2.3" height="3.4" fill="#10ffef"/>
<rect x="176.00" y="216.50" width="2.3" height="3.4" fill="#cfff30"/>
<rect x="178.25" y="216.50" width="2.3" height="3.4" fill="#009fff"/>
<rect x="266.4" y="324.0" width="5.6" height="25.0" fill="#fff"/>
<rect x="270.0" y="349.0" width="15.0" height="14.0" fill="#fff"/>
<rect x="293.0" y="316.0" width="4.0" height="14.0" fill="#fff"/>
<rect x="310.0" y="316.0" width="5.0" height="14.0" fill="#fff"/>
<rect x="257.0" y="397.0" width="7.0" height="10.0" fill="#fff"/>
<rect x="261.0" y="407.0" width="9.0" height="7.0" fill="#fff"/>
<rect x="270.0" y="413.0" width="8.0" height="3.0" fill="#fff"/>
<rect x="303.0" y="427.0" width="12.0" height="4.0" fill="#fff"/>
<rect x="318.6" y="333.6" width="2.8" height="22.4" fill="#fff"/>
<rect x="315.0" y="349.0" width="3.6" height="7.0" fill="#fff"/>
<rect x="372.0" y="320.0" width="3.0" height="7.0" fill="#fff"/>
<rect x="395.0" y="323.0" width="6.0" height="4.0" fill="#fff"/>
<rect x="399.0" y="316.0" width="3.0" height="7.0" fill="#fff"/>
<rect x="415.0" y="320.0" width="7.0" height="5.0" fill="#fff"/>
<rect x="417.0" y="325.0" width="5.0" height="12.0" fill="#fff"/>
<rect x="419.0" y="316.0" width="7.0" height="4.0" fill="#fff"/>
<rect x="439.0" y="330.0" width="5.0" height="4.0" fill="#fff"/>
<rect x="460.0" y="330.0" width="4.6" height="4.0" fill="#fff"/>
<rect x="473.0" y="316.0" width="4.4" height="11.0" fill="#fff"/>
<rect x="469.0" y="327.0" width="8.4" height="3.0" fill="#fff"/>
<rect x="435.0" y="334.0" width="2.4" height="13.0" fill="#fff"/>
<rect x="358.0" y="350.0" width="8.0" height="7.0" fill="#fff"/>
<rect x="412.4" y="350.0" width="2.6" height="7.0" fill="#fff"/>
<rect x="408.4" y="357.0" width="2.6" height="7.0" fill="#fff"/>
<rect x="439.4" y="354.0" width="2.6" height="13.0" fill="#fff"/>
<rect x="375.0" y="370.4" width="4.4" height="6.6" fill="#fff"/>
<rect x="404.0" y="364.0" width="6.6" height="6.0" fill="#fff"/>
<rect x="397.0" y="370.0" width="13.6" height="14.0" fill="#fff"/>
<rect x="397.0" y="384.0" width="18.0" height="10.0" fill="#fff"/>
<rect x="386.0" y="394.0" width="29.0" height="3.0" fill="#fff"/>
<rect x="395.0" y="397.0" width="7.0" height="3.4" fill="#fff"/>
<rect x="315.0" y="427.0" width="9.0" height="15.0" fill="#fff"/>
<rect x="324.0" y="431.0" width="11.0" height="13.0" fill="#fff"/>
<rect x="335.0" y="434.0" width="16.0" height="13.0" fill="#fff"/>
<rect x="348.0" y="427.0" width="3.0" height="7.0" fill="#fff"/>
<rect x="351.0" y="438.0" width="17.6" height="9.0" fill="#fff"/>
<rect x="366.0" y="431.0" width="8.0" height="7.0" fill="#fff"/>
<rect x="368.6" y="421.0" width="2.4" height="10.0" fill="#fff"/>
<rect x="406.0" y="437.0" width="2.6" height="7.0" fill="#fff"/>
<rect x="437.0" y="431.0" width="2.4" height="3.0" fill="#fff"/>
<rect x="354.9" y="243.0" width="4.1" height="6.9" fill="#fff"/>
<rect x="310.2" y="350.6" width="4.8" height="16.4" fill="#fff"/>
<rect x="304.7" y="367.0" width="10.1" height="3.3" fill="#fff"/>
<rect x="321.2" y="343.8" width="2.3" height="3.2" fill="#fff"/>
<rect x="297.0" y="367.0" width="7.7" height="6.5" fill="#fff"/>
<rect x="297.0" y="373.5" width="2.2" height="3.5" fill="#fff"/>
</g>
<g fill="none" stroke="#0072bd" stroke-width="1.08" stroke-linejoin="round">
<path d="M150.4 49.1 L154.3 50.0 L155.9 54.6 L154.7 59.2 L157.0 63.3 L160.0 65.1 L161.6 72.4 L163.4 81.6 L163.4 88.4 L161.6 94.1 L160.5 100.3 L163.4 103.3 L166.9 105.6 L170.7 105.8 L173.7 102.1 L178.3 98.0 L182.2 95.3 L184.0 90.7 L186.7 91.9 L189.7 96.4 L192.0 104.4 L193.1 115.9 L194.7 125.0 L197.0 134.1 L199.5 143.3 L200.5 150.1 L198.4 157.5 L200.0 163.9 L200.5 170.3 L198.4 175.3 L198.2 184.4 L197.7 191.3"/>
<path d="M205.0 191.3 L204.6 186.7 L204.6 178.7 L206.4 170.7 L209.1 162.7 L211.0 154.7 L211.4 145.6 L212.1 138.7 L215.5 136.4 L219.4 138.3 L220.6 145.6 L227.4 147.2 L232.0 151.3 L236.6 157.0 L239.3 165.0 L243.4 173.0 L245.7 175.3 L250.3 175.7 L253.0 179.9 L256.5 182.1 L256.0 187.9 L255.3 193.6"/>
<path d="M262.9 193.6 L265.1 191.3 L269.7 189.0 L271.3 184.4 L271.5 177.6 L276.6 177.1 L282.3 173.0 L289.1 167.3 L293.3 163.4 L294.2 152.4 L294.9 141.0 L294.9 131.9 L293.0 120.4 L291.4 111.3 L286.9 103.3 L281.1 94.1 L275.4 85.0 L269.7 74.7 L264.5 67.9 L261.7 61.5 L263.5 54.1 L264.7 49.1"/>
<path d="M301.7 48.4 L309.7 48.9 L310.2 53.0 L307.9 58.7 L305.1 65.6 L300.6 70.6 L294.9 72.4 L290.3 69.0 L289.1 62.1 L290.3 57.6 L294.9 52.3Z"/>
<path d="M148.6 136.4 L150.4 137.1 L149.7 140.5 L147.9 141.5 L147.4 138.7Z"/>
<path d="M147.4 145.6 L149.7 146.7 L149.0 152.4 L147.4 159.3 L146.3 161.6 L145.1 158.1 L146.3 150.1Z"/>
<path d="M199.0 182.3 L197.8 189.1 L196.0 197.1 L198.3 205.1 L202.9 212.0 L207.4 218.9 L212.0 228.0 L214.3 237.1 L217.7 246.3 L221.1 255.4 L226.9 264.6 L232.6 273.7 L238.3 282.9 L242.9 290.9 L246.3 297.0 L249.7 297.0 L248.6 293.1 L246.3 287.4 L243.5 280.6 L241.7 271.4 L242.2 260.0 L242.2 248.6 L238.3 244.0 L232.6 237.1 L226.9 229.1 L221.1 224.6 L216.6 218.9 L214.3 209.7 L211.5 202.9 L209.7 194.2 L206.3 192.6 L205.1 186.9 L204.7 182.3"/>
<path d="M254.3 184.6 L255.4 189.1 L256.6 200.1 L263.4 193.7 L269.1 189.1 L271.4 182.3"/>
<path d="M384.9 180.0 L381.4 183.4 L378.0 190.3 L373.4 197.1 L367.7 202.9 L366.1 203.5 L368.9 197.1 L373.4 190.3 L377.5 183.4 L379.8 180.0"/>
<path d="M379.8 180.1 L384.4 173.0 L386.0 166.6 L387.1 173.0 L384.9 180.1"/>
<path d="M171.0 241.0 L176.0 241.4 L182.0 245.0 L189.0 246.0 L193.0 249.0 L197.0 256.0 L202.0 264.0 L208.0 271.0 L213.0 278.0 L220.0 285.0 L228.0 291.0 L236.0 298.0 L241.0 305.0 L243.0 311.0 L246.0 316.0 L244.0 324.0 L248.0 330.0 L253.0 332.0 L256.0 340.0 L260.0 344.0 L265.0 350.0 L267.0 356.0 L265.0 366.0 L264.4 380.0 L263.6 393.0 L263.6 393.0 L260.0 391.0 L255.0 393.0 L249.0 387.0 L242.0 378.0 L234.0 366.0 L226.0 354.0 L220.0 340.0 L216.0 328.0 L211.0 316.0 L211.0 316.0 L210.0 313.0 L207.0 305.0 L204.0 297.0 L200.0 289.0 L193.0 281.0 L188.0 273.0 L183.0 265.0 L177.0 257.0 L172.0 249.0 L170.0 243.0Z"/>
<path d="M174.0 279.0 L176.4 279.4 L179.6 284.0 L178.0 285.0 L175.0 282.0Z"/>
<path d="M187.6 298.6 L190.0 297.0 L194.4 305.0 L192.4 307.4 L189.0 303.0Z"/>
<path d="M201.0 330.4 L203.6 329.2 L206.4 339.0 L204.0 340.4 L201.6 335.0Z"/>
<path d="M259.6 339.6 L265.0 337.0 L268.0 344.0 L271.0 350.0 L272.0 356.0 L269.0 355.0 L265.0 348.0 L261.6 344.0Z"/>
<path d="M280.4 351.6 L285.6 352.4 L284.4 358.4 L280.8 357.6Z"/>
<path d="M295.4 290.9 L303.4 287.4 L311.4 282.9 L314.9 278.3 L326.3 276.0 L330.9 269.1 L335.4 260.0 L340.0 253.1 L346.9 248.6 L353.7 239.4 L358.3 230.3 L362.9 223.4 L366.3 228.0 L369.7 229.1 L370.7 230.7 L371.1 236.0 L375.7 241.7 L383.0 247.0 L376.9 252.0 L378.0 260.0 L373.4 268.0 L370.0 276.0 L372.3 285.1 L373.4 294.3 L376.9 300.0 L379.8 302.3 L379.1 302.6 L373.4 306.0 L370.0 312.9 L367.7 322.0 L364.3 330.0 L359.7 336.9 L357.4 344.9 L359.3 351.7 L356.3 358.6 L351.7 364.3 L344.9 370.0 L341.4 365.4 L336.9 362.0 L330.0 358.6 L326.0 359.7 L318.0 362.0 L318.0 358.6 L311.1 357.0 L306.6 355.1 L304.3 349.4 L303.1 339.1 L302.0 330.0 L298.9 329.7 L296.6 326.3 L293.1 317.1 L291.5 308.0 L292.0 298.9Z"/>
<path d="M396.3 68.3 L399.7 67.9 L403.1 70.1 L406.6 72.0 L411.1 69.0 L410.0 77.0 L410.5 83.9 L412.7 88.4 L411.8 94.1 L408.9 99.9 L405.4 105.6 L403.6 111.3 L404.3 118.1 L405.9 125.0 L407.7 129.6 L412.3 127.3 L416.9 126.8 L421.4 130.0 L424.9 132.3 L422.6 136.4 L426.0 141.0 L427.8 143.7 L424.9 145.1 L421.4 142.1 L418.7 136.4 L415.7 132.3 L414.1 135.3 L414.6 140.5 L412.3 138.7 L410.0 134.1 L406.6 130.0 L402.0 134.1 L397.4 133.0 L396.3 127.3 L398.6 122.7 L395.8 120.0 L392.9 121.6 L390.6 118.1 L389.9 109.0 L389.0 99.9 L392.9 101.0 L394.0 94.1 L395.1 86.1 L393.5 79.3 L395.1 72.4Z"/>
<path d="M395.1 137.1 L398.6 137.6 L403.1 141.0 L405.0 145.6 L404.3 150.1 L401.3 153.6 L398.6 149.0 L396.3 142.1Z"/>
<path d="M429.4 150.1 L437.4 149.5 L439.3 153.6 L439.7 159.3 L441.1 168.4 L436.3 169.6 L437.0 178.7 L432.9 180.3 L431.7 173.0 L429.4 169.6 L430.6 163.9 L434.0 157.0 L430.6 154.7Z"/>
<path d="M407.7 158.6 L412.3 159.3 L413.4 163.9 L418.0 164.3 L419.1 170.3 L422.6 176.4 L424.9 169.6 L426.0 176.4 L427.1 181.7 L430.6 182.1 L430.1 187.2 L426.0 188.5 L423.7 184.4 L421.4 187.9 L419.6 186.3 L418.0 191.3 L416.4 194.7 L414.1 191.3 L412.7 185.6 L415.0 184.4 L415.7 178.7 L411.1 177.6 L407.7 174.1 L408.9 166.1Z"/>
<path d="M439.7 194.7 L438.6 191.3 L438.6 186.7 L442.0 189.0 L444.3 192.4 L445.4 194.7"/>
<path d="M414.6 180.0 L412.7 186.9 L415.7 192.6 L418.0 195.5 L420.3 190.3 L421.4 185.7 L424.9 188.0 L428.3 186.9 L430.6 183.4 L431.7 180.0"/>
<path d="M439.7 186.9 L444.3 192.6 L447.0 200.6 L448.4 209.7 L449.3 217.7 L447.7 225.7 L445.4 231.4 L443.1 225.7 L442.0 220.0 L439.3 224.6 L439.7 230.3 L441.5 234.9 L437.4 240.6 L432.9 236.7 L428.3 232.1 L426.5 225.7 L427.1 218.9 L422.6 214.3 L418.0 217.7 L415.7 215.4 L412.7 217.7 L410.0 224.6 L408.9 218.9 L409.5 212.0 L413.4 207.4 L418.0 204.0 L421.4 201.0 L423.7 204.7 L427.8 202.9 L431.7 199.4 L435.1 196.0 L437.9 196.5 L438.6 190.3Z"/>
<path d="M398.6 299.1 L407.7 302.6 L415.7 305.5 L423.7 303.7 L430.6 299.1 L436.3 294.1 L437.4 297.3 L434.0 303.7 L428.3 309.4 L420.3 311.0 L410.0 310.6 L400.9 311.0 L395.1 312.9 L392.9 318.6 L394.0 326.6 L396.3 332.3 L403.1 330.0 L410.0 327.7 L418.0 324.3 L421.4 327.7 L415.7 330.0 L410.0 334.6 L405.4 341.4 L407.7 349.4 L410.0 356.3 L408.9 363.1 L412.3 370.0 L416.9 379.1 L418.0 386.0 L414.6 390.6 L411.8 386.0 L410.5 379.1 L406.6 380.3 L404.3 374.6 L403.6 367.7 L400.9 370.0 L398.1 363.1 L399.7 356.3 L397.4 352.9 L394.0 357.4 L393.5 365.4 L395.1 374.6 L394.0 383.7 L392.9 389.4 L388.3 390.6 L386.0 386.0 L384.9 376.9 L382.6 367.7 L380.3 358.6 L381.4 349.4 L384.9 340.3 L384.4 331.1 L387.1 324.3 L389.0 315.1 L390.6 308.3 L394.0 303.7Z"/>
<path d="M461.7 288.4 L459.0 291.2 L456.9 296.6 L456.0 302.1 L457.6 307.6 L459.0 314.5 L460.4 321.3 L463.1 326.8 L465.6 329.6 L464.5 326.8 L462.4 321.3 L461.0 314.5 L461.7 309.0 L463.8 310.4 L466.5 309.7 L464.5 304.9 L465.8 302.1 L467.9 299.4 L467.9 296.0 L465.2 297.3 L462.4 298.7 L461.0 293.9Z"/>
<path d="M444.3 359.7 L448.9 358.1 L453.4 359.7 L454.6 364.3 L451.1 367.7 L446.6 366.6 L444.3 363.1Z"/>
<path d="M461.4 356.3 L469.4 354.0 L478.6 355.1 L485.4 358.6 L487.3 365.4 L483.1 363.1 L476.3 361.3 L468.3 362.0 L463.7 360.9Z"/>
<path d="M482.0 319.7 L486.6 317.4 L490.0 320.2 L486.6 322.5Z"/>
<path d="M456.9 335.7 L460.3 334.6 L462.6 339.1 L456.9 339.1Z"/>
<path d="M430.6 340.3 L436.3 341.4 L432.9 343.7Z"/>
<path d="M264.3 397.4 L267.7 395.1 L275.7 395.1 L284.9 399.7 L290.6 405.4 L298.6 407.7 L304.3 406.6 L308.9 402.0 L314.6 405.4 L321.4 410.0 L326.0 412.3 L328.3 409.5 L335.1 408.9 L336.3 410.5 L330.6 412.3 L327.1 414.6 L332.9 419.1 L340.9 420.3 L342.0 428.3 L344.3 426.0 L348.9 427.1 L348.9 431.7 L344.3 431.7 L340.9 430.6 L332.9 428.3 L323.7 427.1 L316.9 423.7 L307.7 422.6 L298.6 420.3 L289.4 419.1 L281.4 415.7 L273.4 413.4 L268.9 408.9 L265.4 404.3Z"/>
<path d="M354.6 428.3 L359.1 428.3 L358.0 436.3 L354.6 435.1Z"/>
<path d="M362.6 430.6 L366.0 430.6 L364.9 437.4 L361.4 436.3Z"/>
<path d="M369.4 426.0 L376.3 424.9 L380.9 430.6 L374.0 434.0 L369.9 431.7Z"/>
<path d="M390.0 429.4 L396.9 427.1 L403.7 430.6 L412.9 427.1 L417.9 423.7 L417.4 428.3 L410.6 432.9 L403.7 435.1 L396.9 436.3 L391.1 434.0Z"/>
<path d="M382.0 443.1 L390.0 442.0 L398.0 447.7 L394.6 453.4 L387.7 448.9 L382.7 447.7Z"/>
<path d="M420.9 428.3 L425.4 427.8 L424.3 430.1 L420.9 429.4Z"/>
<path d="M430.6 439.7 L437.4 432.9 L446.6 429.4 L455.3 427.8 L451.1 432.9 L444.3 437.4 L439.7 439.7"/>
<path d="M443.1 419.1 L450.0 416.9 L447.7 422.6 L443.1 422.6Z"/>
<path d="M420.3 427.1 L424.9 427.1 L423.7 429.9 L420.3 429.4Z"/>
<path d="M488.0 332.3 L491.4 326.6 L497.1 322.0 L502.9 320.9 L508.6 324.3 L514.3 326.6 L516.1 333.4 L515.4 340.3 L516.6 347.1 L520.0 352.9 L524.6 358.6 L529.1 360.9 L532.6 356.3 L536.0 349.4 L540.6 344.9 L545.1 339.1 L549.7 335.7 L555.4 339.1 L562.3 343.7 L571.4 348.3 L578.3 352.9 L587.4 357.4 L596.6 362.0 L604.6 366.6 L611.4 371.1 L617.1 376.9 L620.6 383.7 L621.7 389.4 L626.3 391.7 L632.0 395.1 L637.7 396.3 L638.9 402.0 L635.4 406.6 L632.0 408.9 L635.4 414.6 L640.0 421.4 L642.3 427.1 L644.6 434.0 L649.1 438.6"/>
<path d="M488.0 332.3 L490.3 335.7 L494.2 338.0 L496.0 341.4 L499.4 346.0 L505.1 346.7 L512.0 344.9 L509.3 349.9 L502.9 351.7 L497.1 355.1 L502.9 363.1 L505.1 367.7 L509.7 365.4 L513.1 364.3 L517.7 368.9 L525.7 374.6 L534.9 379.1 L544.0 383.7 L550.9 388.3 L554.3 397.4 L556.6 406.6 L557.3 413.4 L553.1 415.7 L549.7 422.6 L548.6 427.1 L553.1 428.3 L560.0 424.9 L568.0 424.9 L571.4 429.4 L576.0 435.1 L581.7 438.6 L587.4 439.7 L594.3 438.6 L598.9 432.9 L597.0 428.3 L603.4 422.6 L608.0 418.0 L613.7 418.0 L619.4 422.6 L624.0 428.3 L626.3 434.0 L630.9 438.6"/>
<path d="M630.9 438.7 L632.8 444.8 L637.6 450.6 L647.2 452.8 L655.2 455.0 L660.0 459.2"/>
<path d="M649.1 438.7 L652.0 440.0 L655.2 444.8 L660.0 448.0"/>
<path d="M642.3 390.6 L649.1 390.1 L659.4 389.4"/>
<path d="M642.3 390.6 L644.6 394.0 L650.3 395.6 L653.7 399.3 L659.4 400.9"/>
<path d="M628.1 343.7 L632.0 343.0 L635.0 344.9 L632.0 346.7 L628.1 345.5Z"/>
<path d="M528.0 325.4 L532.1 326.1 L534.9 331.1 L532.6 333.4 L529.1 328.9Z"/>
<path d="M483.4 318.6 L486.9 317.4 L490.3 320.2 L486.9 322.0Z"/>
<path d="M520.0 389.9 L521.6 397.4 L518.9 406.6 L516.6 408.9 L516.6 402.0 L518.4 394.0Z"/>
<path d="M492.6 412.3 L494.2 416.9 L491.4 422.1 L490.7 418.0Z"/>
<path d="M480.0 357.4 L484.6 359.7 L486.4 365.4 L483.4 364.3 L480.0 363.1"/>
<path d="M381.6 585.0 L392.8 582.4 L400.8 574.4 L408.8 563.2 L412.0 550.4 L417.8 539.2 L421.6 550.4 L424.8 544.0 L423.2 536.0 L428.0 531.2 L432.8 523.2 L437.6 513.6 L444.0 510.4 L450.4 504.0 L456.8 505.0 L461.6 512.0 L463.8 521.0 L469.6 516.8 L476.0 520.0 L474.4 512.0 L479.2 502.4 L482.4 492.8 L485.6 484.8 L490.4 481.6 L500.0 480.0 L503.2 470.4 L508.0 475.2 L517.6 478.4 L527.2 481.6 L532.0 480.0 L536.8 484.8 L540.0 480.0 L541.6 486.4 L539.4 494.4 L533.6 496.0 L533.0 507.2 L529.8 516.8 L535.2 523.2 L538.4 530.6 L546.4 532.8 L554.4 539.2 L562.4 545.6 L567.2 553.6 L571.4 555.8 L576.8 553.0 L580.0 540.8 L583.2 526.4 L583.8 508.8 L584.8 489.6 L586.4 475.2 L589.6 464.0 L592.8 464.0 L595.0 473.6 L599.2 486.4 L602.4 499.2 L605.6 510.4 L610.4 510.4 L616.2 518.4 L617.4 528.0 L618.4 537.6 L623.2 547.2 L624.8 560.0 L629.6 571.2 L636.0 579.2 L640.8 585.0"/>
<path d="M480.8 472.0 L488.8 468.8 L492.6 472.0 L488.8 476.8 L482.4 475.2Z"/>
</g>
<path d="M123.5 215.1 L195 215.1 L206 215.7 L222 215.9 L238 216.3 L242 217 L254 217.8 L268 218 L272 219.3 L306 219.3 L313 220.2 L386 220.3 L394 219.1 L410 218.8 L426 218.1 L449 218.1 L457 216.1 L476 216.1 L480.5 215.1 L507 215.1 L512.5 213.7 L600.5 213.7 L604 215.1 L626 215.1 L632 216.2 L641 216.2 L648 217.9 L658.5 217.9" fill="none" stroke="#000" stroke-width="2.3" stroke-dasharray="7.8,8.15"/>
</g>
<g stroke="#262626" stroke-width="1" shape-rendering="crispEdges" fill="none">
<rect x="123.5" y="49.5" width="535.0" height="536.0"/>
<line x1="123.5" y1="585.5" x2="123.5" y2="580.0"/>
<line x1="123.5" y1="49.5" x2="123.5" y2="55.0"/>
<line x1="212.5" y1="585.5" x2="212.5" y2="580.0"/>
<line x1="212.5" y1="49.5" x2="212.5" y2="55.0"/>
<line x1="301.5" y1="585.5" x2="301.5" y2="580.0"/>
<line x1="301.5" y1="49.5" x2="301.5" y2="55.0"/>
<line x1="390.5" y1="585.5" x2="390.5" y2="580.0"/>
<line x1="390.5" y1="49.5" x2="390.5" y2="55.0"/>
<line x1="480.5" y1="585.5" x2="480.5" y2="580.0"/>
<line x1="480.5" y1="49.5" x2="480.5" y2="55.0"/>
<line x1="569.5" y1="585.5" x2="569.5" y2="580.0"/>
<line x1="569.5" y1="49.5" x2="569.5" y2="55.0"/>
<line x1="658.5" y1="585.5" x2="658.5" y2="580.0"/>
<line x1="658.5" y1="49.5" x2="658.5" y2="55.0"/>
<line x1="123.5" y1="585.5" x2="129.0" y2="585.5"/>
<line x1="658.5" y1="585.5" x2="653.0" y2="585.5"/>
<line x1="123.5" y1="518.5" x2="129.0" y2="518.5"/>
<line x1="658.5" y1="518.5" x2="653.0" y2="518.5"/>
<line x1="123.5" y1="451.5" x2="129.0" y2="451.5"/>
<line x1="658.5" y1="451.5" x2="653.0" y2="451.5"/>
<line x1="123.5" y1="384.5" x2="129.0" y2="384.5"/>
<line x1="658.5" y1="384.5" x2="653.0" y2="384.5"/>
<line x1="123.5" y1="317.5" x2="129.0" y2="317.5"/>
<line x1="658.5" y1="317.5" x2="653.0" y2="317.5"/>
<line x1="123.5" y1="250.5" x2="129.0" y2="250.5"/>
<line x1="658.5" y1="250.5" x2="653.0" y2="250.5"/>
<line x1="123.5" y1="183.5" x2="129.0" y2="183.5"/>
<line x1="658.5" y1="183.5" x2="653.0" y2="183.5"/>
<line x1="123.5" y1="116.5" x2="129.0" y2="116.5"/>
<line x1="658.5" y1="116.5" x2="653.0" y2="116.5"/>
<line x1="123.5" y1="49.5" x2="129.0" y2="49.5"/>
<line x1="658.5" y1="49.5" x2="653.0" y2="49.5"/>
</g>
<g font-family="Liberation Sans, Arial, sans-serif" font-size="20.83" fill="#262626">
<text x="122.3" y="614.8" text-anchor="middle">90</text>
<text x="211.5" y="614.8" text-anchor="middle">100</text>
<text x="300.6" y="614.8" text-anchor="middle">110</text>
<text x="389.8" y="614.8" text-anchor="middle">120</text>
<text x="479.0" y="614.8" text-anchor="middle">130</text>
<text x="568.1" y="614.8" text-anchor="middle">140</text>
<text x="657.3" y="614.8" text-anchor="middle">150</text>
<text x="113.7" y="593.5" text-anchor="end">-20</text>
<text x="113.7" y="526.5" text-anchor="end">-15</text>
<text x="113.7" y="459.5" text-anchor="end">-10</text>
<text x="113.7" y="392.5" text-anchor="end">-5</text>
<text x="113.7" y="325.5" text-anchor="end">0</text>
<text x="113.7" y="258.5" text-anchor="end">5</text>
<text x="113.7" y="191.5" text-anchor="end">10</text>
<text x="113.7" y="124.5" text-anchor="end">15</text>
<text x="113.7" y="57.5" text-anchor="end">20</text>
</g>
<g font-family="Liberation Sans, Arial, sans-serif" font-size="23.1" fill="#262626">
<text x="389.5" y="645.7" text-anchor="middle">Geographic Lon. (<tspan dx="1.3">°</tspan><tspan dx="1.3">)</tspan></text>
<text transform="translate(72,317.5) rotate(-90)" text-anchor="middle">Geographic Lat. (<tspan dx="1.3">°</tspan><tspan dx="1.3">)</tspan></text>
<text transform="translate(800.7,316.5) rotate(-90)" text-anchor="middle" font-size="19.3">ROTI (TECU/min)</text>
</g>
<text x="390.2" y="40.3" text-anchor="middle" font-family="Liberation Sans, Arial, sans-serif" font-size="23.1" font-weight="bold" fill="#000">11-Jul-2025; 00:00 UT</text>
<g shape-rendering="crispEdges">
<rect x="697.5" y="576.12" width="42.0" height="9.88" fill="#00008f"/>
<rect x="697.5" y="567.75" width="42.0" height="8.88" fill="#00009f"/>
<rect x="697.5" y="559.38" width="42.0" height="8.88" fill="#0000af"/>
<rect x="697.5" y="551.00" width="42.0" height="8.88" fill="#0000bf"/>
<rect x="697.5" y="542.62" width="42.0" height="8.88" fill="#0000cf"/>
<rect x="697.5" y="534.25" width="42.0" height="8.88" fill="#0000df"/>
<rect x="697.5" y="525.88" width="42.0" height="8.88" fill="#0000ef"/>
<rect x="697.5" y="517.50" width="42.0" height="8.88" fill="#0000ff"/>
<rect x="697.5" y="509.12" width="42.0" height="8.88" fill="#0010ff"/>
<rect x="697.5" y="500.75" width="42.0" height="8.88" fill="#0020ff"/>
<rect x="697.5" y="492.38" width="42.0" height="8.88" fill="#0030ff"/>
<rect x="697.5" y="484.00" width="42.0" height="8.88" fill="#0040ff"/>
<rect x="697.5" y="475.62" width="42.0" height="8.88" fill="#0050ff"/>
<rect x="697.5" y="467.25" width="42.0" height="8.88" fill="#0060ff"/>
<rect x="697.5" y="458.88" width="42.0" height="8.88" fill="#0070ff"/>
<rect x="697.5" y="450.50" width="42.0" height="8.88" fill="#0080ff"/>
<rect x="697.5" y="442.12" width="42.0" height="8.88" fill="#008fff"/>
<rect x="697.5" y="433.75" width="42.0" height="8.88" fill="#009fff"/>
<rect x="697.5" y="425.38" width="42.0" height="8.88" fill="#00afff"/>
<rect x="697.5" y="417.00" width="42.0" height="8.88" fill="#00bfff"/>
<rect x="697.5" y="408.62" width="42.0" height="8.88" fill="#00cfff"/>
<rect x="697.5" y="400.25" width="42.0" height="8.88" fill="#00dfff"/>
<rect x="697.5" y="391.88" width="42.0" height="8.88" fill="#00efff"/>
<rect x="697.5" y="383.50" width="42.0" height="8.88" fill="#00ffff"/>
<rect x="697.5" y="375.12" width="42.0" height="8.88" fill="#10ffef"/>
<rect x="697.5" y="366.75" width="42.0" height="8.88" fill="#20ffdf"/>
<rect x="697.5" y="358.38" width="42.0" height="8.88" fill="#30ffcf"/>
<rect x="697.5" y="350.00" width="42.0" height="8.88" fill="#40ffbf"/>
<rect x="697.5" y="341.62" width="42.0" height="8.88" fill="#50ffaf"/>
<rect x="697.5" y="333.25" width="42.0" height="8.88" fill="#60ff9f"/>
<rect x="697.5" y="324.88" width="42.0" height="8.88" fill="#70ff8f"/>
<rect x="697.5" y="316.50" width="42.0" height="8.88" fill="#80ff80"/>
<rect x="697.5" y="308.12" width="42.0" height="8.88" fill="#8fff70"/>
<rect x="697.5" y="299.75" width="42.0" height="8.88" fill="#9fff60"/>
<rect x="697.5" y="291.38" width="42.0" height="8.88" fill="#afff50"/>
<rect x="697.5" y="283.00" width="42.0" height="8.88" fill="#bfff40"/>
<rect x="697.5" y="274.62" width="42.0" height="8.88" fill="#cfff30"/>
<rect x="697.5" y="266.25" width="42.0" height="8.88" fill="#dfff20"/>
<rect x="697.5" y="257.88" width="42.0" height="8.88" fill="#efff10"/>
<rect x="697.5" y="249.50" width="42.0" height="8.88" fill="#ffff00"/>
<rect x="697.5" y="241.12" width="42.0" height="8.88" fill="#ffef00"/>
<rect x="697.5" y="232.75" width="42.0" height="8.88" fill="#ffdf00"/>
<rect x="697.5" y="224.38" width="42.0" height="8.88" fill="#ffcf00"/>
<rect x="697.5" y="216.00" width="42.0" height="8.88" fill="#ffbf00"/>
<rect x="697.5" y="207.62" width="42.0" height="8.88" fill="#ffaf00"/>
<rect x="697.5" y="199.25" width="42.0" height="8.88" fill="#ff9f00"/>
<rect x="697.5" y="190.88" width="42.0" height="8.88" fill="#ff8f00"/>
<rect x="697.5" y="182.50" width="42.0" height="8.88" fill="#ff8000"/>
<rect x="697.5" y="174.12" width="42.0" height="8.88" fill="#ff7000"/>
<rect x="697.5" y="165.75" width="42.0" height="8.88" fill="#ff6000"/>
<rect x="697.5" y="157.38" width="42.0" height="8.88" fill="#ff5000"/>
<rect x="697.5" y="149.00" width="42.0" height="8.88" fill="#ff4000"/>
<rect x="697.5" y="140.62" width="42.0" height="8.88" fill="#ff3000"/>
<rect x="697.5" y="132.25" width="42.0" height="8.88" fill="#ff2000"/>
<rect x="697.5" y="123.88" width="42.0" height="8.88" fill="#ff1000"/>
<rect x="697.5" y="115.50" width="42.0" height="8.88" fill="#ff0000"/>
<rect x="697.5" y="107.12" width="42.0" height="8.88" fill="#ef0000"/>
<rect x="697.5" y="98.75" width="42.0" height="8.88" fill="#df0000"/>
<rect x="697.5" y="90.38" width="42.0" height="8.88" fill="#cf0000"/>
<rect x="697.5" y="82.00" width="42.0" height="8.88" fill="#bf0000"/>
<rect x="697.5" y="73.62" width="42.0" height="8.88" fill="#af0000"/>
<rect x="697.5" y="65.25" width="42.0" height="8.88" fill="#9f0000"/>
<rect x="697.5" y="56.88" width="42.0" height="8.88" fill="#8f0000"/>
<rect x="697.5" y="49.50" width="42.0" height="7.88" fill="#800000"/>
</g>
<g stroke="#262626" stroke-width="1" shape-rendering="crispEdges" fill="none">
<rect x="697.5" y="49.5" width="42.0" height="536.0"/>
<line x1="739.5" y1="518.5" x2="734.5" y2="518.5"/>
<line x1="739.5" y1="451.5" x2="734.5" y2="451.5"/>
<line x1="739.5" y1="384.5" x2="734.5" y2="384.5"/>
<line x1="739.5" y1="317.5" x2="734.5" y2="317.5"/>
<line x1="739.5" y1="250.5" x2="734.5" y2="250.5"/>
<line x1="739.5" y1="183.5" x2="734.5" y2="183.5"/>
<line x1="739.5" y1="116.5" x2="734.5" y2="116.5"/>
</g>
<g font-family="Liberation Sans, Arial, sans-serif" font-size="18.9" fill="#262626">
<text x="747.2" y="592.5">0</text>
<text x="747.2" y="525.5">0.1</text>
<text x="747.2" y="458.5">0.2</text>
<text x="747.2" y="391.5">0.3</text>
<text x="747.2" y="324.5">0.4</text>
<text x="747.2" y="257.5">0.5</text>
<text x="747.2" y="190.5">0.6</text>
<text x="747.2" y="123.5">0.7</text>
<text x="747.2" y="56.5">0.8</text>
</g>
</svg>
</body></html>
